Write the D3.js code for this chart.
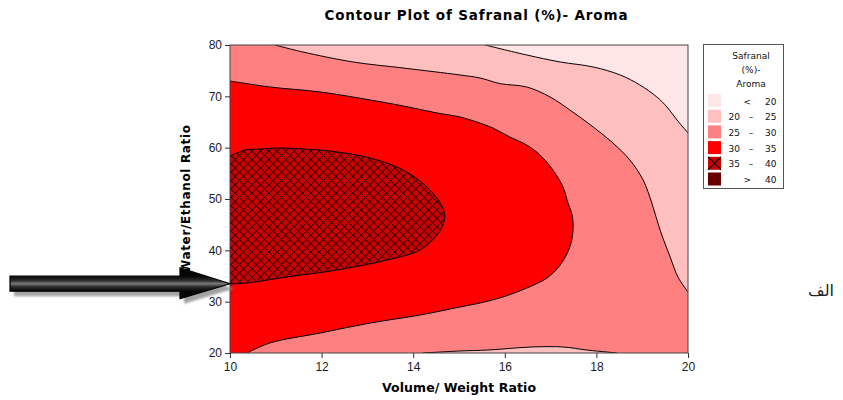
<!DOCTYPE html>
<html>
<head>
<meta charset="utf-8">
<script src="https://cdn.jsdelivr.net/npm/d3@7"></script>
<style>
  body { margin: 0; background: #fff; }
  svg { display: block; font-family: "DejaVu Sans", Verdana, sans-serif; }
  .tick text { font-size: 12px; fill: #1a1a2e; }
  .tick line { stroke: #333; }
</style>
</head>
<body>
<div id="app"></div>
<script>
const titleText = 'Contour Plot of Safranal (%)- Aroma';
const xTitle = 'Volume/ Weight Ratio';
const yTitle = 'Water/Ethanol Ratio';
const xTicks = [10, 12, 14, 16, 18, 20];
const yTicks = [20, 30, 40, 50, 60, 70, 80];

// contour lines, [volume/weight, water/ethanol]
const level20 = [[15.57, 80], [16.48, 78.05], [17.21, 76.69], [17.93, 75.72], [18.52, 74.16],
  [18.95, 72.21], [19.32, 69.87], [19.54, 67.93], [19.76, 65.39], [20, 62.86]];
const level25 = [[10.98, 80], [11.59, 78.64], [12.69, 76.69], [13.78, 75.52], [15.02, 74.16],
  [15.46, 73.57], [15.9, 72.47], [16.48, 71.82], [16.99, 69.87], [17.42, 67.34], [17.93, 64.03],
  [18.36, 60.91], [18.73, 57.6], [19.02, 53.7], [19.21, 49.22], [19.39, 43.96], [19.61, 38.7],
  [19.78, 34.81], [20, 31.88]];
const level25Bottom = [[14.21, 20], [15.02, 20.39], [15.63, 20.58], [16.59, 21.17], [17.27, 21.17],
  [17.79, 20.58], [18.23, 20.19], [18.45, 20]];
const level30 = [[10, 72.99], [10.87, 71.82], [11.97, 70.85], [13.06, 69.29], [13.78, 68.12],
  [14.52, 66.76], [15.02, 65.98], [15.39, 65], [15.74, 63.83], [16.11, 62.08], [16.48, 60.52],
  [16.77, 58.57], [17.05, 55.65], [17.27, 52.34], [17.38, 49.22], [17.47, 46.88], [17.49, 43.96],
  [17.42, 40.65], [17.21, 37.14], [16.92, 34.61], [16.48, 32.66], [15.96, 30.91], [15.46, 29.74],
  [15.02, 28.96], [14.15, 27.4], [13.06, 25.84], [11.97, 23.9], [10.87, 21.95], [10.37, 20]];
const level35 = [[10, 58.38], [10.33, 59.55], [10.66, 59.74], [11.09, 59.94], [11.64, 59.74],
  [12.18, 59.35], [13.06, 57.99], [13.78, 55.65], [14.3, 52.34], [14.59, 49.22], [14.69, 46.88],
  [14.65, 44.94], [14.52, 42.99], [14.15, 40.07], [13.43, 38.12], [12.34, 36.17], [11.24, 34.81],
  [10.37, 33.64], [10, 33.44]];

const legendTitle = ['Safranal', '(%)-', 'Aroma'];
const legendLow  = ['<', '20', '25', '30', '35', '>'];
const legendHigh = ['20', '25', '30', '35', '40', '40'];
const levelColors = ['#FFE6E6', '#FFBFBF', '#FF8080', '#FF0000', '#CC0000', '#6B0000'];

const arrowTip = [10, 33.5];
const sideNote = 'الف';

const width = 843, height = 400;
const x = d3.scaleLinear().domain([10, 20]).range([230, 688]);
const y = d3.scaleLinear().domain([20, 80]).range([353, 45]);

const svg = d3.select('#app').append('svg')
  .attr('width', width)
  .attr('height', height);

const defs = svg.append('defs');
defs.append('clipPath').attr('id', 'plotClip')
  .append('rect')
  .attr('x', x(10)).attr('y', y(80))
  .attr('width', x(20) - x(10)).attr('height', y(20) - y(80));

const hatch = defs.append('pattern')
  .attr('id', 'hatch')
  .attr('patternUnits', 'userSpaceOnUse')
  .attr('width', 8.4).attr('height', 8.4);
hatch.append('rect').attr('width', 8.4).attr('height', 8.4).attr('fill', levelColors[4]);
hatch.append('path')
  .attr('d', 'M0,0L8.4,8.4M0,8.4L8.4,0')
  .attr('stroke', '#000').attr('stroke-width', 0.9);

const line = d3.line()
  .x(d => x(d[0]))
  .y(d => y(d[1]))
  .curve(d3.curveCatmullRom.alpha(0.5));

// closes a contour line through extra corner points
const area = (pts, corners) =>
  line(pts) + corners.map(c => `L${x(c[0])},${y(c[1])}`).join('') + 'Z';

const plot = svg.append('g').attr('clip-path', 'url(#plotClip)');

plot.append('rect')
  .attr('x', x(10)).attr('y', y(80))
  .attr('width', x(20) - x(10)).attr('height', y(20) - y(80))
  .attr('fill', levelColors[2]);

plot.append('path').attr('d', area(level25, [[20, 80]])).attr('fill', levelColors[1]);
plot.append('path').attr('d', area(level20, [[20, 80]])).attr('fill', levelColors[0]);
plot.append('path').attr('d', area(level25Bottom, [])).attr('fill', levelColors[1]);
plot.append('path').attr('d', area(level30, [[10, 20]])).attr('fill', levelColors[3]);
plot.append('path').attr('d', area(level35, [])).attr('fill', 'url(#hatch)');

[level20, level25, level25Bottom, level30, level35].forEach(pts => {
  plot.append('path')
    .attr('d', line(pts))
    .attr('fill', 'none')
    .attr('stroke', '#000')
    .attr('stroke-width', 1);
});

svg.append('rect')
  .attr('x', x(10)).attr('y', y(80))
  .attr('width', x(20) - x(10)).attr('height', y(20) - y(80))
  .attr('fill', 'none')
  .attr('stroke', '#444');

const xAxis = svg.append('g')
  .attr('transform', `translate(0,${y(20)})`)
  .call(d3.axisBottom(x).tickValues(xTicks).tickSize(5).tickPadding(4));
const yAxis = svg.append('g')
  .attr('transform', `translate(${x(10)},0)`)
  .call(d3.axisLeft(y).tickValues(yTicks).tickSize(5).tickPadding(3));
[xAxis, yAxis].forEach(a => a.select('.domain').remove());

svg.append('text')
  .attr('x', 476).attr('y', 20)
  .attr('text-anchor', 'middle')
  .attr('font-weight', 'bold').attr('font-size', 13.5)
  .attr('textLength', 303)
  .text(titleText);

svg.append('text')
  .attr('x', (x(10) + x(20)) / 2).attr('y', 392)
  .attr('text-anchor', 'middle')
  .attr('font-weight', 'bold').attr('font-size', 12.5)
  .attr('textLength', 154)
  .text(xTitle);

svg.append('text')
  .attr('transform', `translate(190,${(y(20) + y(80)) / 2}) rotate(-90)`)
  .attr('text-anchor', 'middle')
  .attr('font-weight', 'bold').attr('font-size', 12)
  .attr('textLength', 148)
  .text(yTitle);

// legend
const legend = svg.append('g').attr('font-size', 9).attr('fill', '#111');
legend.append('rect')
  .attr('x', 703.5).attr('y', 44.5)
  .attr('width', 80).attr('height', 144)
  .attr('fill', '#fff').attr('stroke', '#555');

legend.selectAll('.lt').data(legendTitle).enter().append('text')
  .attr('x', 751).attr('y', (d, i) => 59 + i * 14)
  .attr('text-anchor', 'middle')
  .text(d => d);

const rows = legend.selectAll('.row').data(levelColors).enter().append('g')
  .attr('transform', (d, i) => `translate(708,${94 + i * 15.7})`);
rows.append('rect')
  .attr('width', 13).attr('height', 13)
  .attr('fill', d => d);
rows.filter((d, i) => i === 4).append('path')
  .attr('d', 'M0,0L13,13M0,13L13,0')
  .attr('stroke', '#000').attr('stroke-width', 1.2);
rows.append('text')
  .attr('x', (d, i) => legendLow[i].length === 1 ? 43 : 32)
  .attr('y', 10.5)
  .attr('text-anchor', 'end')
  .text((d, i) => legendLow[i]);
rows.filter((d, i) => legendLow[i].length > 1).append('text')
  .attr('x', 43).attr('y', 10.5)
  .attr('text-anchor', 'middle')
  .text('–');
rows.append('text')
  .attr('x', 57).attr('y', 10.5)
  .text((d, i) => legendHigh[i]);

// arrow annotation pointing at the plot
const tipX = x(arrowTip[0]), tipY = y(arrowTip[1]);
const arrowPts = [
  [tipX - 220, tipY - 7.5], [tipX - 50, tipY - 7.5], [tipX - 50, tipY - 16],
  [tipX, tipY], [tipX - 50, tipY + 15], [tipX - 50, tipY + 7.5], [tipX - 220, tipY + 7.5]
];
const grad = defs.append('linearGradient')
  .attr('id', 'arrowGrad')
  .attr('gradientUnits', 'userSpaceOnUse')
  .attr('x1', 0).attr('x2', 0)
  .attr('y1', tipY - 7.5).attr('y2', tipY + 7.5);
[['0', '#050505'], ['0.3', '#2e2e2e'], ['0.5', '#7a7a7a'], ['0.7', '#2e2e2e'], ['1', '#050505']]
  .forEach(s => grad.append('stop').attr('offset', s[0]).attr('stop-color', s[1]));
defs.append('filter').attr('id', 'soft')
  .append('feGaussianBlur').attr('stdDeviation', 1.2);

svg.append('polygon')
  .attr('points', arrowPts.map(p => [p[0] + 4, p[1] + 5].join(',')).join(' '))
  .attr('fill', '#8c8c8c')
  .attr('opacity', 0.8)
  .attr('filter', 'url(#soft)');
svg.append('polygon')
  .attr('points', arrowPts.map(p => p.join(',')).join(' '))
  .attr('fill', 'url(#arrowGrad)')
  .attr('stroke', '#000')
  .attr('stroke-width', 1.2);

svg.append('text')
  .attr('x', 834).attr('y', 296)
  .attr('text-anchor', 'end')
  .attr('font-size', 16)
  .attr('fill', '#222')
  .text(sideNote);
</script>
</body>
</html>
